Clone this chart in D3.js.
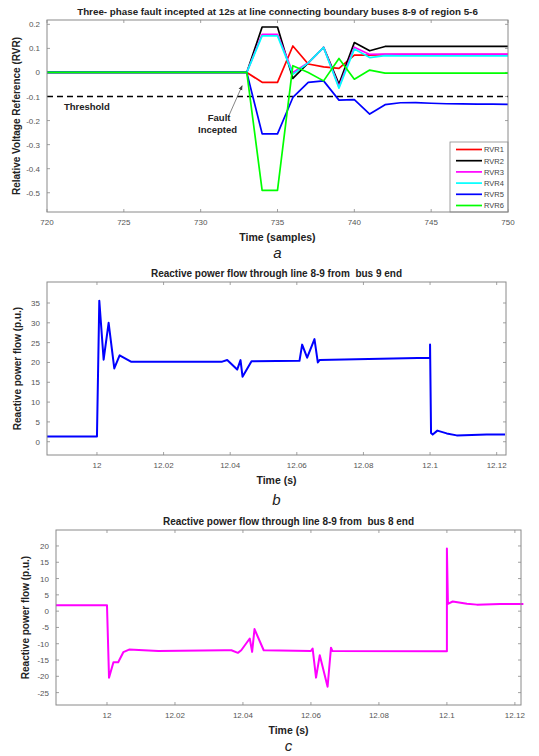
<!DOCTYPE html>
<html>
<head>
<meta charset="utf-8">
<script src="https://cdn.jsdelivr.net/npm/d3@7"></script>
<style>
body{margin:0;background:#fff;}
text{font-family:"Liberation Sans",Arial,sans-serif;white-space:pre;}
</style>
</head>
<body>
<script>
// ---- panel a : RVR per sample
var samples=[720,721,722,723,724,725,726,727,728,729,730,731,732,733,734,735,736,737,738,739,740,741,742,743,744,745,746,747,748,749,750]
var rvrNames=["RVR1","RVR2","RVR3","RVR4","RVR5","RVR6"]
var rvrColors=["#ff0000","#000000","#ff00ff","#00ffff","#0000ff","#00ff00"]
var rvr1=[0,0,0,0,0,0,0,0,0,0,0,0,0,0,-0.041,-0.041,0.11,0.035,0.023,0.017,0.072,0.072,0.074,0.074,0.074,0.074,0.074,0.074,0.074,0.074,0.074]
var rvr2=[0,0,0,0,0,0,0,0,0,0,0,0,0,0,0.189,0.189,-0.025,0.04,0.104,-0.048,0.124,0.09,0.108,0.108,0.108,0.108,0.108,0.108,0.108,0.108,0.108]
var rvr3=[0,0,0,0,0,0,0,0,0,0,0,0,0,0,0.158,0.158,0.0,0.04,0.104,-0.06,0.105,0.075,0.076,0.076,0.076,0.076,0.076,0.076,0.076,0.076,0.076]
var rvr4=[0,0,0,0,0,0,0,0,0,0,0,0,0,0,0.152,0.152,-0.008,0.04,0.104,-0.065,0.097,0.062,0.07,0.069,0.069,0.069,0.069,0.069,0.069,0.069,0.069]
var rvr5=[0,0,0,0,0,0,0,0,0,0,0,0,0,0,-0.255,-0.255,-0.104,-0.041,-0.035,-0.115,-0.113,-0.173,-0.134,-0.126,-0.125,-0.128,-0.13,-0.131,-0.132,-0.132,-0.133]
var rvr6=[0,0,0,0,0,0,0,0,0,0,0,0,0,0,-0.49,-0.49,0.028,0.0,-0.035,0.058,-0.028,0.01,-0.003,-0.003,-0.003,-0.003,-0.003,-0.003,-0.003,-0.003,-0.003]
var threshold=-0.1
var aXTicks=[720,725,730,735,740,745,750]
var aYTicks=[0.2,0.1,0,-0.1,-0.2,-0.3,-0.4,-0.5]
var aYLabels=["0.2","0.1","0","-0.1","-0.2","-0.3","-0.4","-0.5"]

// ---- panel b : bus 9 end
var bTime=[11.985,12.0,12.0007,12.002,12.0035,12.0052,12.0068,12.0102,12.0376,12.0391,12.0421,12.0431,12.0437,12.0464,12.0608,12.0616,12.0631,12.0653,12.0663,12.0668,12.1,12.1,12.1003,12.1008,12.1022,12.105,12.108,12.117,12.1225]
var bQ=[1.3,1.3,35.6,20.7,30.0,18.5,21.8,20.2,20.2,20.6,18.2,20.6,16.4,20.3,20.4,24.5,21.2,25.9,20.0,20.6,21.2,24.5,2.2,1.8,2.8,2.1,1.6,1.8,1.8]
var bYTicks=[0,5,10,15,20,25,30,35]

// ---- panel c : bus 8 end
var cTime=[11.985,12.0,12.0006,12.0019,12.0033,12.0048,12.0065,12.0151,12.0346,12.0366,12.0385,12.0395,12.042,12.0427,12.0434,12.0461,12.06,12.0605,12.0615,12.0626,12.0649,12.0659,12.0663,12.1,12.1,12.1003,12.1017,12.1059,12.1088,12.1156,12.1225]
var cQ=[1.8,1.8,-20.4,-15.7,-15.7,-12.6,-11.8,-12.2,-12.0,-12.0,-12.8,-12.0,-8.4,-12.5,-5.5,-12.0,-12.2,-11.5,-20.4,-13.5,-23.2,-11.2,-12.2,-12.3,19.2,2.25,2.96,2.3,2.0,2.2,2.2]
var cYTicks=[20,15,10,5,0,-5,-10,-15,-20,-25]

var tXTicks=[12,12.02,12.04,12.06,12.08,12.1,12.12]
var tXLabels=["12","12.02","12.04","12.06","12.08","12.1","12.12"]

var svg=d3.select("body").append("svg")
          .attr("width",539)
          .attr("height",756)
svg.append("rect").attr("width",539).attr("height",756).attr("fill","#fff")

// draws inward ticks on 4 sides, tick labels, titles
var drawFrame=function(p){
  var g=svg.append("g")
  var x=p.x, y=p.y
  var r=x.range(), t=y.range()
  var tl=3
  var ticks=g.append("g").attr("stroke","#8a8a8a").attr("stroke-width",0.8)
  p.xTicks.forEach(function(d){
    ticks.append("line").attr("x1",x(d)).attr("x2",x(d)).attr("y1",t[0]).attr("y2",t[0]-tl)
    ticks.append("line").attr("x1",x(d)).attr("x2",x(d)).attr("y1",t[1]).attr("y2",t[1]+tl)
  })
  p.yTicks.forEach(function(d){
    ticks.append("line").attr("x1",r[0]).attr("x2",r[0]+tl).attr("y1",y(d)).attr("y2",y(d))
    ticks.append("line").attr("x1",r[1]).attr("x2",r[1]-tl).attr("y1",y(d)).attr("y2",y(d))
  })
  g.selectAll(".xl").data(p.xTicks).enter().append("text")
   .attr("x",function(d){return x(d)})
   .attr("y",t[0]+13)
   .attr("text-anchor","middle")
   .attr("font-size","8px")
   .attr("fill","#555")
   .text(function(d,i){return p.xLabels[i]})
  g.selectAll(".yl").data(p.yTicks).enter().append("text")
   .attr("x",r[0]-7)
   .attr("y",function(d){return y(d)+3})
   .attr("text-anchor","end")
   .attr("font-size","8px")
   .attr("fill","#555")
   .text(function(d,i){return p.yLabels[i]})
  g.append("text").attr("x",(r[0]+r[1])/2).attr("y",t[1]-5)
   .attr("text-anchor","middle").attr("font-size",p.titleSize).attr("font-weight","bold").attr("fill","#222")
   .text(p.title)
  g.append("text").attr("x",(r[0]+r[1])/2).attr("y",t[0]+29)
   .attr("text-anchor","middle").attr("font-size","10.5px").attr("font-weight","bold").attr("fill","#222")
   .text(p.xTitle)
  g.append("text").attr("transform","translate("+p.yTitleX+","+((t[0]+t[1])/2)+") rotate(-90)")
   .attr("text-anchor","middle").attr("font-size","10px").attr("font-weight","bold").attr("fill","#222")
   .text(p.yTitle)
  g.append("text").attr("x",(r[0]+r[1])/2).attr("y",t[0]+p.letterDy)
   .attr("text-anchor","middle").attr("font-size","15px").attr("font-style","italic").attr("fill","#222")
   .text(p.letter)
  return g
}
var drawBox=function(x,y){
  var r=x.range(), t=y.range()
  svg.append("rect").attr("x",r[0]).attr("y",t[1]).attr("width",r[1]-r[0]).attr("height",t[0]-t[1])
     .attr("fill","none").attr("stroke","#8a8a8a").attr("stroke-width",1)
}

// ================= panel a
var xa=d3.scaleLinear().domain([720,750]).range([47,508])
var ya=d3.scaleLinear().domain([-0.58,0.218]).range([212,20])
drawFrame({x:xa,y:ya,xTicks:aXTicks,xLabels:aXTicks.map(String),yTicks:aYTicks,yLabels:aYLabels,
  title:"Three- phase fault incepted at 12s at line connecting boundary buses 8-9 of region 5-6",titleSize:"9.8px",
  xTitle:"Time (samples)",yTitle:"Relative Voltage Reference (RVR)",yTitleX:20,letter:"a",letterDy:46})
// threshold
svg.append("line").attr("x1",xa(720)).attr("x2",xa(750)).attr("y1",ya(threshold)).attr("y2",ya(threshold))
   .attr("stroke","#000").attr("stroke-width",1.6).attr("stroke-dasharray","6,4")
svg.append("text").attr("x",xa(721.1)).attr("y",ya(threshold)+13).attr("font-size","9.5px")
   .attr("font-weight","bold").attr("fill","#222").text("Threshold")
var series=[rvr1,rvr2,rvr3,rvr4,rvr5,rvr6]
var lineA=d3.line().x(function(d,i){return xa(samples[i])}).y(function(d){return ya(d)})
series.forEach(function(s,k){
  svg.append("path").datum(s).attr("d",lineA)
     .attr("fill","none").attr("stroke",rvrColors[k]).attr("stroke-width",1.7).attr("stroke-linejoin","round")
})
// fault annotation
svg.append("defs").append("marker").attr("id","arr").attr("viewBox","0 0 10 10")
   .attr("refX",9).attr("refY",5).attr("markerWidth",6).attr("markerHeight",6).attr("orient","auto")
   .append("path").attr("d","M0,1L10,5L0,9z").attr("fill","#444")
svg.append("line").attr("x1",xa(731.8)).attr("y1",ya(-0.185)).attr("x2",xa(732.7)).attr("y2",ya(-0.055))
   .attr("stroke","#666").attr("stroke-width",0.8).attr("marker-end","url(#arr)")
svg.append("text").attr("x",xa(731.2)).attr("y",ya(-0.2)).attr("text-anchor","middle")
   .attr("font-size","9.5px").attr("font-weight","bold").attr("fill","#222").text("Fault")
svg.append("text").attr("x",xa(731.1)).attr("y",ya(-0.253)).attr("text-anchor","middle")
   .attr("font-size","9.5px").attr("font-weight","bold").attr("fill","#222").text("Incepted")
// legend
var lg=svg.append("g").attr("transform","translate(450,142)")
lg.append("rect").attr("width",58).attr("height",70).attr("fill","#fff").attr("stroke","#8a8a8a").attr("stroke-width",0.8)
var items=lg.selectAll("g").data(rvrNames).enter().append("g")
            .attr("transform",function(d,i){return "translate(0,"+(7.5+11.2*i)+")"})
items.append("line").attr("x1",6).attr("x2",32).attr("stroke",function(d,i){return rvrColors[i]}).attr("stroke-width",1.7)
items.append("text").attr("x",34).attr("y",2.8).attr("font-size","7.5px").attr("fill","#444").text(function(d){return d})
drawBox(xa,ya)

// ================= panel b
var xb=d3.scaleLinear().domain([11.985,12.1228]).range([47,506])
var yb=d3.scaleLinear().domain([-3.35,40.3]).range([455,282])
drawFrame({x:xb,y:yb,xTicks:tXTicks,xLabels:tXLabels,yTicks:bYTicks,yLabels:bYTicks.map(String),
  title:"Reactive power flow through line 8-9 from  bus 9 end",titleSize:"10px",
  xTitle:"Time (s)",yTitle:"Reactive power flow (p.u.)",yTitleX:21,letter:"b",letterDy:50})
svg.append("path").datum(bQ)
   .attr("d",d3.line().x(function(d,i){return xb(bTime[i])}).y(function(d){return yb(d)}))
   .attr("fill","none").attr("stroke","#0000ff").attr("stroke-width",2).attr("stroke-linejoin","round")
drawBox(xb,yb)

// ================= panel c
var xc=d3.scaleLinear().domain([11.985,12.1218]).range([56,521])
var yc=d3.scaleLinear().domain([-28.8,24.9]).range([705,530])
drawFrame({x:xc,y:yc,xTicks:tXTicks,xLabels:tXLabels,yTicks:cYTicks,yLabels:cYTicks.map(String),
  title:"Reactive power flow through line 8-9 from  bus 8 end",titleSize:"10px",
  xTitle:"Time (s)",yTitle:"Reactive power flow (p.u.)",yTitleX:29,letter:"c",letterDy:46})
svg.append("path").datum(cQ)
   .attr("d",d3.line().x(function(d,i){return xc(cTime[i])}).y(function(d){return yc(d)}))
   .attr("fill","none").attr("stroke","#ff00ff").attr("stroke-width",2).attr("stroke-linejoin","round")
drawBox(xc,yc)
</script>
</body>
</html>
